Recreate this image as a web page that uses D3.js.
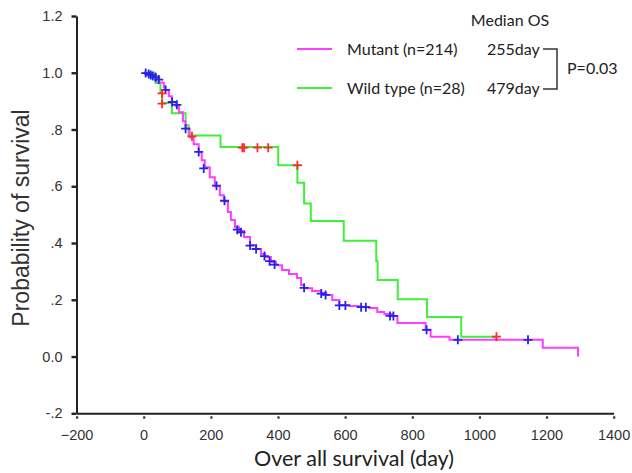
<!DOCTYPE html>
<html>
<head>
<meta charset="utf-8">
<script src="https://cdn.jsdelivr.net/npm/d3@7"></script>
<style>
  body { margin: 0; background: #fff; }
  svg { display: block; }
</style>
</head>
<body>
<div id="chart"></div>
<script>
// axis ticks
const xTicks = [-200, 0, 200, 400, 600, 800, 1000, 1200, 1400];
const yTicks = [-0.2, 0, 0.2, 0.4, 0.6, 0.8, 1.0, 1.2];
const yTickLabels = ["-.2", "0.0", ".2", ".4", ".6", ".8", "1.0", "1.2"];

// Mutant (n=214): step points
const mutantDays = [0, 15, 30, 45, 60, 66, 75, 84, 96, 105, 117, 125, 137, 149, 164, 173, 182, 197, 212, 227,
  239, 251, 260, 272, 284, 299, 317, 335, 350, 362, 379, 394, 412, 433, 457, 469, 478, 502, 529, 544,
  562, 583, 613, 648, 672, 696, 717, 741, 756, 840, 855, 911, 1189, 1294];
const mutantSurv = [1.0, 0.994, 0.984, 0.966, 0.948, 0.938, 0.917, 0.896, 0.882, 0.861, 0.829, 0.804, 0.773, 0.748, 0.720, 0.692, 0.667, 0.632, 0.600, 0.568,
  0.547, 0.509, 0.481, 0.456, 0.442, 0.421, 0.393, 0.379, 0.361, 0.351, 0.333, 0.322, 0.305, 0.291, 0.277, 0.252, 0.241, 0.231, 0.224, 0.217,
  0.199, 0.182, 0.178, 0.175, 0.171, 0.157, 0.150, 0.143, 0.118, 0.094, 0.070, 0.059, 0.031, 0.0];
// Mutant censored
const mutantCensorDays = [6, 15, 21, 27, 36, 45, 65, 85, 99, 125, 164, 179, 217, 241, 279, 290, 317, 335, 360, 375, 390,
  478, 529, 542, 583, 601, 648, 662, 734, 744, 843, 936, 1145];
const mutantCensorSurv = [0.999, 0.996, 0.992, 0.989, 0.983, 0.976, 0.940, 0.897, 0.887, 0.803, 0.721, 0.663, 0.602, 0.549, 0.447, 0.438, 0.391, 0.379, 0.354, 0.336, 0.324,
  0.242, 0.222, 0.217, 0.180, 0.180, 0.174, 0.174, 0.143, 0.143, 0.094, 0.059, 0.059];

// Wild type (n=28)
const wildDays = [0, 35, 50, 55, 84, 125, 134, 229, 401, 458, 478, 498, 596, 693, 697, 757, 844, 946, 1051];
const wildSurv = [1.0, 0.964, 0.929, 0.893, 0.857, 0.815, 0.779, 0.738, 0.674, 0.612, 0.539, 0.478, 0.408, 0.336, 0.270, 0.202, 0.139, 0.070, 0.070];
const wildCensorDays = [55, 55, 144, 294, 299, 339, 371, 458, 1051];
const wildCensorSurv = [0.927, 0.891, 0.776, 0.736, 0.736, 0.736, 0.736, 0.674, 0.070];

const W = 632, H = 473;
const mutantColor = "#ff3dff", wildColor = "#3ef03a";
const blueMark = "#2424e8", redMark = "#ff2a2a";

let svg = d3.select("#chart").append("svg")
    .attr("width", W)
    .attr("height", H);

let x = d3.scaleLinear().domain([-200, 1400]).range([76.5, 613.6]);
let y = d3.scaleLinear().domain([-0.2, 1.2]).range([413.3, 16]);

// y axis
let yAxis = d3.axisLeft(y)
    .tickValues(yTicks)
    .tickSizeInner(5)
    .tickSizeOuter(0)
    .tickPadding(9)
    .tickFormat((d, i) => yTickLabels[i]);
let gy = svg.append("g")
    .attr("transform", "translate(" + x(-200) + ",0)")
    .call(yAxis);
gy.select(".domain").attr("stroke", "#222").attr("stroke-width", 2);
gy.selectAll(".tick line").attr("stroke", "#222").attr("stroke-width", 2.4);
gy.selectAll(".tick text")
    .attr("fill", "#333")
    .style("font", "14.5px 'Liberation Sans', Arial, sans-serif");

// x axis
let xAxis = d3.axisBottom(x)
    .tickValues(xTicks)
    .tickSizeInner(0)
    .tickSizeOuter(0)
    .tickPadding(16)
    .tickFormat(d3.format("d"));
let gx = svg.append("g")
    .attr("transform", "translate(0," + y(-0.2) + ")")
    .call(xAxis);
gx.select(".domain").attr("stroke", "#222").attr("stroke-width", 2);
gx.selectAll(".tick").append("rect")
    .attr("x", -1).attr("y", 3)
    .attr("width", 2.2).attr("height", 2.4)
    .attr("fill", "#333");
gx.selectAll(".tick text")
    .attr("fill", "#333")
    .style("font", "14.5px 'Liberation Sans', Arial, sans-serif");

// axis titles
svg.append("text")
    .attr("transform", "translate(28.5,218) rotate(-90)")
    .attr("text-anchor", "middle")
    .attr("fill", "#333")
    .style("font", "23px 'Liberation Sans', Arial, sans-serif")
    .text("Probability of survival");

svg.append("text")
    .attr("x", 354)
    .attr("y", 466)
    .attr("text-anchor", "middle")
    .attr("fill", "#222")
    .style("font", "21.5px Lato, sans-serif")
    .text("Over all survival (day)");

// curves
let line = d3.line()
    .x(d => x(d[0]))
    .y(d => y(d[1]))
    .curve(d3.curveStepAfter);

let wild = wildDays.map((d, i) => [d, wildSurv[i]]);
let mutant = mutantDays.map((d, i) => [d, mutantSurv[i]]);

svg.append("path")
    .datum(wild)
    .attr("d", line)
    .attr("fill", "none")
    .attr("stroke", wildColor)
    .attr("stroke-width", 2);

svg.append("path")
    .datum(mutant)
    .attr("d", line)
    .attr("fill", "none")
    .attr("stroke", mutantColor)
    .attr("stroke-width", 2);

// censor marks
let cross = "M-4.5,0H4.5M0,-4.5V4.5";
function drawCensors(days, surv, color) {
    svg.append("g").selectAll("path")
        .data(days.map((d, i) => [d, surv[i]]))
        .enter().append("path")
        .attr("transform", d => "translate(" + x(d[0]) + "," + y(d[1]) + ")")
        .attr("d", cross)
        .attr("fill", "none")
        .attr("stroke", color)
        .attr("stroke-width", 1.8);
}
drawCensors(mutantCensorDays, mutantCensorSurv, blueMark);
drawCensors(wildCensorDays, wildCensorSurv, redMark);

// legend
let legendFont = "16px Lato, sans-serif";
svg.append("text")
    .attr("x", 510).attr("y", 26)
    .attr("text-anchor", "middle")
    .attr("fill", "#222")
    .style("font", legendFont)
    .text("Median OS");

let legendRows = [
    {label: "Mutant (n=214)", median: "255day", color: mutantColor, cy: 49},
    {label: "Wild type (n=28)", median: "479day", color: wildColor, cy: 88}
];
legendRows.forEach(r => {
    svg.append("line")
        .attr("x1", 297).attr("x2", 332)
        .attr("y1", r.cy).attr("y2", r.cy)
        .attr("stroke", r.color)
        .attr("stroke-width", 2);
    svg.append("text")
        .attr("x", 347).attr("y", r.cy + 5.5)
        .attr("fill", "#222")
        .style("font", legendFont)
        .text(r.label);
    svg.append("text")
        .attr("x", 487).attr("y", r.cy + 5.5)
        .attr("fill", "#222")
        .style("font", legendFont)
        .text(r.median);
});

svg.append("path")
    .attr("d", "M543,49H557V89H543")
    .attr("fill", "none")
    .attr("stroke", "#333")
    .attr("stroke-width", 1.5);

svg.append("text")
    .attr("x", 567).attr("y", 74)
    .attr("fill", "#222")
    .style("font", legendFont)
    .text("P=0.03");
</script>
</body>
</html>
